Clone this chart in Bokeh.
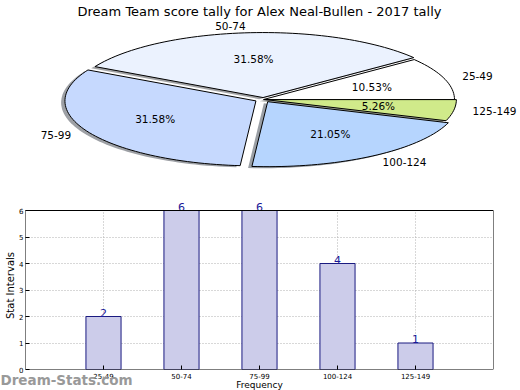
import math
from bokeh.plotting import figure
from bokeh.models import Range1d, FixedTicker, BoxAnnotation, ColumnDataSource
from bokeh.core.properties import value
from bokeh.embed import file_html
from bokeh.resources import INLINE

# ---- data ----
title = "Dream Team score tally for Alex Neal-Bullen - 2017 tally"
categories = ["25-49", "50-74", "75-99", "100-124", "125-149"]
counts = [2, 6, 6, 4, 1]
pie_colors = ["#ffffff", "#ebf2fe", "#c6d9fe", "#b6d5fe", "#d0ea8a"]
explode = [0.0, 0.03, 0.045, 0.04, 0.01]
x_label = "Frequency"
y_label = "Stat Intervals"
y_ticks = [0, 1, 2, 3, 4, 5, 6]
watermark = "Dream-Stats.com"

FONT = "DejaVu Sans"

# ---- pie (elliptical, via non-equal axis scales) ----
W1, H1 = 520, 200
cx, cy, rx, ry = 263.0, 99.0, 191.0, 65.0
p1 = figure(width=W1, height=H1, output_backend="svg", toolbar_location=None,
            x_range=Range1d(-cx / rx, (W1 - cx) / rx),
            y_range=Range1d(-(H1 - cy) / ry, cy / ry),
            min_border=0)
p1.axis.visible = False
p1.grid.visible = False
p1.outline_line_color = None
p1.background_fill_color = "white"

total = float(sum(counts))
xs, ys, sxs, sys_, shcol = [], [], [], [], []
lab_x, lab_y, lab_t, lab_align = [], [], [], []
pct_x, pct_y, pct_t = [], [], []
start = 0.0
for i, c in enumerate(counts):
    frac = c / total
    a0 = start * 2 * math.pi
    a1 = (start + frac) * 2 * math.pi
    mid = (a0 + a1) / 2
    ox = explode[i] * math.cos(mid)
    oy = explode[i] * math.sin(mid)
    n = max(4, int(frac * 200))
    px = [ox] + [ox + math.cos(a0 + (a1 - a0) * k / n) for k in range(n + 1)]
    py = [oy] + [oy + math.sin(a0 + (a1 - a0) * k / n) for k in range(n + 1)]
    xs.append(px)
    ys.append(py)
    sxs.append([v - 0.02 for v in px])
    sys_.append([v - 0.025 for v in py])
    h = pie_colors[i].lstrip("#")
    r, g, b = (int(h[j:j + 2], 16) for j in (0, 2, 4))
    shcol.append("#%02x%02x%02x" % (int(r * 0.3), int(g * 0.3), int(b * 0.3)))
    lab_x.append(ox + 1.1 * math.cos(mid))
    lab_y.append(oy + 1.1 * math.sin(mid))
    lab_t.append(categories[i])
    lab_align.append("left" if math.cos(mid) > 0 else "right")
    pct_x.append(ox + 0.6 * math.cos(mid))
    pct_y.append(oy + 0.6 * math.sin(mid))
    pct_t.append("%.2f%%" % (frac * 100))
    start += frac

p1.patches(sxs, sys_, fill_color=shcol, fill_alpha=0.5, line_color=None)
p1.patches(xs, ys, fill_color=pie_colors, line_color="black", line_width=1)
p1.text(lab_x, lab_y, text=lab_t, text_align=lab_align, text_baseline="middle",
        text_font=value(FONT), text_font_size="10.5px", text_color="black")
p1.text(pct_x, pct_y, text=pct_t, text_align="center", text_baseline="middle",
        text_font=value(FONT), text_font_size="10.5px", text_color="black")
p1.text([(259 - cx) / rx], [(cy - 3) / ry], text=[title], text_align="center",
        text_baseline="top", text_font=value(FONT), text_font_size="13px",
        text_color="black")

# ---- bar chart ----
positions = [i + 1 for i in range(len(categories))]
ymax = max(y_ticks)
p2 = figure(width=520, height=190, output_backend="svg", toolbar_location=None,
            x_range=Range1d(0, len(categories) + 1),
            y_range=Range1d(0, ymax + 0.34),
            min_border_left=25, min_border_right=27, min_border_top=1,
            min_border_bottom=21)
p2.background_fill_color = "white"
p2.outline_line_color = None
src = ColumnDataSource(dict(x=positions, top=counts, txt=[str(c) for c in counts],
                            y0=[0] * len(positions), y1=[ymax] * len(positions)))

# vertical dotted grid lines (only up to the top of the value axis)
p2.segment(x0="x", y0="y0", x1="x", y1="y1", source=src, line_color="#b0b0b0",
           line_dash="1 2", line_width=1)
p2.vbar(x="x", top="top", width=0.45, source=src, fill_color="#ccccea",
        line_color="#1a1a80", line_width=1)
p2.text(x="x", y="top", text="txt", source=src, text_align="center",
        text_baseline="bottom", text_color="#1a1a99",
        text_font=value(FONT), text_font_size="11px")

p2.add_layout(BoxAnnotation(left=0, right=len(categories) + 1, bottom=0, top=ymax,
                            fill_alpha=0, line_color="black", line_width=1,
                            line_alpha=1))

p2.xaxis.ticker = FixedTicker(ticks=positions)
p2.xaxis.major_label_overrides = {pos: cat for pos, cat in zip(positions, categories)}
p2.yaxis.ticker = FixedTicker(ticks=y_ticks)
for ax in (p2.xaxis, p2.yaxis):
    ax.major_tick_in = 4
    ax.major_tick_out = 0
    ax.minor_tick_line_color = None
    ax.axis_line_color = None
    ax.major_tick_line_color = "black"
    ax.major_label_text_font = FONT
    ax.major_label_text_font_size = "7px"
    ax.major_label_text_color = "black"
    ax.major_label_standoff = 3
    ax.axis_label_text_font = FONT
    ax.axis_label_text_font_style = "normal"
    ax.axis_label_text_color = "black"
    ax.axis_label_standoff = 0
p2.yaxis.major_label_standoff = 2
p2.yaxis.axis_label = y_label
p2.yaxis.axis_label_text_font_size = "10px"

p2.ygrid.ticker = FixedTicker(ticks=y_ticks)
p2.ygrid.grid_line_color = "#b0b0b0"
p2.ygrid.grid_line_dash = "1 2"
p2.xgrid.visible = False

# ---- bottom strip overlay: x-axis title and watermark ----
p3 = figure(width=520, height=17, output_backend="svg", toolbar_location=None,
            x_range=Range1d(0, 520), y_range=Range1d(0, 17), min_border=0,
            margin=(-17, 0, 0, 0))
p3.axis.visible = False
p3.grid.visible = False
p3.outline_line_color = None
p3.background_fill_alpha = 0
p3.border_fill_alpha = 0
p3.text([0.0], [11.0], text=[watermark], text_align="left", text_baseline="middle",
        text_font=value(FONT), text_font_style="bold", text_font_size="13.5px",
        text_color="#999999")
p3.text([259.0], [0.5], text=[x_label], text_align="center", text_baseline="bottom",
        text_font=value(FONT), text_font_size="9px", text_color="black")

# separate roots, stacked vertically (no frame alignment between them)
open("out.html", "w").write(file_html([p1, p2, p3], INLINE))
